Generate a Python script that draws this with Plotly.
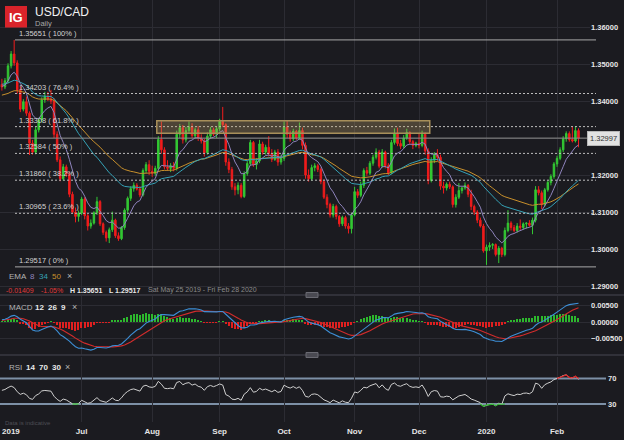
import plotly.graph_objects as go
import pandas as pd

# ---------------- data (USD/CAD daily) ----------------
open_ = [
    1.3445, 1.3438, 1.3455, 1.3495, 1.3527, 1.3503, 1.3430, 1.3378, 1.3398, 1.3367,
    1.3286, 1.3262, 1.3322, 1.3349, 1.3403, 1.3412, 1.3405, 1.3400, 1.3310, 1.3241,
    1.3190, 1.3222, 1.3202, 1.3148, 1.3100, 1.3088, 1.3097, 1.3135, 1.3090, 1.3062,
    1.3070, 1.3098, 1.3128, 1.3068, 1.3045, 1.3030, 1.3052, 1.3078, 1.3036, 1.3028,
    1.3058, 1.3105, 1.3137, 1.3163, 1.3172, 1.3162, 1.3146, 1.3212, 1.3228, 1.3210,
    1.3205, 1.3218, 1.3296, 1.3268, 1.3222, 1.3218, 1.3225, 1.3218, 1.3310, 1.3328,
    1.3295, 1.3320, 1.3330, 1.3306, 1.3322, 1.3300, 1.3292, 1.3260, 1.3305, 1.3322,
    1.3310, 1.3325, 1.3345, 1.3336, 1.3235, 1.3215, 1.3168, 1.3160, 1.3172, 1.3142,
    1.3204, 1.3231, 1.3288, 1.3228, 1.3238, 1.3284, 1.3262, 1.3275, 1.3258, 1.3242,
    1.3262, 1.3235, 1.3245, 1.3330, 1.3310, 1.3298, 1.3318, 1.3300, 1.3320, 1.3280,
    1.3200, 1.3190, 1.3220, 1.3225, 1.3215, 1.3182, 1.3140, 1.3120, 1.3092, 1.3115,
    1.3088, 1.3068, 1.3085, 1.3062, 1.3055, 1.3092, 1.3155, 1.3145, 1.3172, 1.3212,
    1.3205, 1.3232, 1.3248, 1.3262, 1.3224, 1.3262, 1.3225, 1.3206, 1.3288, 1.3312,
    1.3285, 1.3278, 1.3300, 1.3315, 1.3290, 1.3280, 1.3286, 1.3280, 1.3310, 1.3265,
    1.3185, 1.3240, 1.3255, 1.3248, 1.3170, 1.3165, 1.3175, 1.3168, 1.3120, 1.3140,
    1.3158, 1.3165, 1.3172, 1.3148, 1.3115, 1.3100, 1.3078, 1.3062, 1.2995, 1.3005,
    1.3010, 1.3012, 1.2985, 1.3002, 1.2985, 1.3050, 1.3070, 1.3058, 1.3050, 1.3062,
    1.3058, 1.3068, 1.3070, 1.3064, 1.3078, 1.3160, 1.3152, 1.3120, 1.3160, 1.3180,
    1.3196, 1.3230, 1.3245, 1.3268, 1.3298, 1.3312, 1.3296, 1.3292, 1.3320,
]
high = [
    1.3460, 1.3462, 1.3502, 1.3535, 1.3565, 1.3510, 1.3440, 1.3405, 1.3412, 1.3372,
    1.3295, 1.3330, 1.3355, 1.3410, 1.3425, 1.3425, 1.3430, 1.3408, 1.3318, 1.3250,
    1.3230, 1.3228, 1.3208, 1.3155, 1.3112, 1.3104, 1.3141, 1.3140, 1.3095, 1.3080,
    1.3102, 1.3141, 1.3132, 1.3072, 1.3050, 1.3058, 1.3101, 1.3082, 1.3045, 1.3062,
    1.3110, 1.3142, 1.3170, 1.3180, 1.3178, 1.3170, 1.3218, 1.3235, 1.3240, 1.3225,
    1.3225, 1.3305, 1.3345, 1.3275, 1.3240, 1.3232, 1.3235, 1.3320, 1.3338, 1.3335,
    1.3330, 1.3345, 1.3340, 1.3328, 1.3332, 1.3310, 1.3298, 1.3315, 1.3330, 1.3328,
    1.3330, 1.3352, 1.3384, 1.3340, 1.3245, 1.3222, 1.3178, 1.3180, 1.3178, 1.3210,
    1.3238, 1.3295, 1.3292, 1.3245, 1.3295, 1.3290, 1.3282, 1.3305, 1.3270, 1.3268,
    1.3270, 1.3255, 1.3345, 1.3348, 1.3320, 1.3325, 1.3322, 1.3342, 1.3328, 1.3288,
    1.3215, 1.3228, 1.3232, 1.3230, 1.3220, 1.3188, 1.3148, 1.3125, 1.3122, 1.3120,
    1.3092, 1.3090, 1.3090, 1.3070, 1.3098, 1.3168, 1.3162, 1.3182, 1.3218, 1.3222,
    1.3238, 1.3255, 1.3272, 1.3268, 1.3270, 1.3266, 1.3232, 1.3295, 1.3326, 1.3328,
    1.3295, 1.3308, 1.3325, 1.3318, 1.3295, 1.3290, 1.3312, 1.3320, 1.3315, 1.3272,
    1.3248, 1.3262, 1.3270, 1.3255, 1.3182, 1.3180, 1.3182, 1.3172, 1.3148, 1.3178,
    1.3168, 1.3180, 1.3176, 1.3160, 1.3120, 1.3105, 1.3085, 1.3068, 1.3012, 1.3018,
    1.3016, 1.3015, 1.3008, 1.3006, 1.3058, 1.3105, 1.3075, 1.3065, 1.3070, 1.3080,
    1.3072, 1.3072, 1.3078, 1.3085, 1.3170, 1.3170, 1.3158, 1.3165, 1.3185, 1.3202,
    1.3235, 1.3252, 1.3275, 1.3305, 1.3318, 1.3318, 1.3330, 1.3332, 1.3326,
]
low = [
    1.3428, 1.3432, 1.3448, 1.3488, 1.3495, 1.3420, 1.3370, 1.3372, 1.3360, 1.3254,
    1.3255, 1.3256, 1.3315, 1.3342, 1.3395, 1.3400, 1.3392, 1.3300, 1.3235, 1.3183,
    1.3185, 1.3195, 1.3140, 1.3095, 1.3072, 1.3074, 1.3092, 1.3080, 1.3050, 1.3055,
    1.3066, 1.3092, 1.3062, 1.3038, 1.3020, 1.3016, 1.3046, 1.3030, 1.3022, 1.3024,
    1.3052, 1.3098, 1.3130, 1.3155, 1.3158, 1.3140, 1.3142, 1.3205, 1.3200, 1.3195,
    1.3198, 1.3212, 1.3258, 1.3215, 1.3212, 1.3208, 1.3210, 1.3212, 1.3300, 1.3285,
    1.3288, 1.3312, 1.3300, 1.3298, 1.3292, 1.3285, 1.3250, 1.3255, 1.3298, 1.3305,
    1.3300, 1.3318, 1.3330, 1.3225, 1.3205, 1.3160, 1.3145, 1.3148, 1.3137, 1.3138,
    1.3198, 1.3225, 1.3222, 1.3215, 1.3232, 1.3255, 1.3255, 1.3250, 1.3235, 1.3238,
    1.3225, 1.3228, 1.3238, 1.3300, 1.3290, 1.3292, 1.3295, 1.3295, 1.3270, 1.3190,
    1.3182, 1.3185, 1.3210, 1.3208, 1.3175, 1.3135, 1.3110, 1.3085, 1.3085, 1.3080,
    1.3060, 1.3062, 1.3055, 1.3042, 1.3042, 1.3088, 1.3138, 1.3140, 1.3165, 1.3198,
    1.3200, 1.3225, 1.3242, 1.3218, 1.3220, 1.3218, 1.3200, 1.3202, 1.3282, 1.3278,
    1.3270, 1.3272, 1.3295, 1.3282, 1.3270, 1.3275, 1.3272, 1.3275, 1.3255, 1.3175,
    1.3180, 1.3232, 1.3238, 1.3160, 1.3150, 1.3158, 1.3162, 1.3112, 1.3112, 1.3135,
    1.3150, 1.3160, 1.3140, 1.3105, 1.3092, 1.3070, 1.3058, 1.2990, 1.2957, 1.2995,
    1.3000, 1.2980, 1.2962, 1.2978, 1.2980, 1.3045, 1.3050, 1.3045, 1.3044, 1.3050,
    1.3052, 1.3055, 1.3060, 1.3040, 1.3072, 1.3145, 1.3108, 1.3115, 1.3155, 1.3172,
    1.3190, 1.3222, 1.3240, 1.3262, 1.3290, 1.3290, 1.3288, 1.3288, 1.3275,
]
close_ = [
    1.3438, 1.3455, 1.3495, 1.3527, 1.3503, 1.3430, 1.3378, 1.3398, 1.3367, 1.3286,
    1.3262, 1.3322, 1.3349, 1.3403, 1.3412, 1.3405, 1.3400, 1.3310, 1.3241, 1.3190,
    1.3222, 1.3202, 1.3148, 1.3100, 1.3088, 1.3097, 1.3135, 1.3090, 1.3062, 1.3070,
    1.3098, 1.3128, 1.3068, 1.3045, 1.3030, 1.3052, 1.3078, 1.3036, 1.3028, 1.3058,
    1.3105, 1.3137, 1.3163, 1.3172, 1.3162, 1.3146, 1.3212, 1.3228, 1.3210, 1.3205,
    1.3218, 1.3296, 1.3268, 1.3222, 1.3218, 1.3225, 1.3218, 1.3310, 1.3328, 1.3295,
    1.3320, 1.3330, 1.3306, 1.3322, 1.3300, 1.3292, 1.3260, 1.3305, 1.3322, 1.3310,
    1.3325, 1.3345, 1.3336, 1.3235, 1.3215, 1.3168, 1.3160, 1.3172, 1.3142, 1.3204,
    1.3231, 1.3288, 1.3228, 1.3238, 1.3284, 1.3262, 1.3275, 1.3258, 1.3242, 1.3262,
    1.3235, 1.3245, 1.3330, 1.3310, 1.3298, 1.3318, 1.3300, 1.3320, 1.3280, 1.3200,
    1.3190, 1.3220, 1.3225, 1.3215, 1.3182, 1.3140, 1.3120, 1.3092, 1.3115, 1.3088,
    1.3068, 1.3085, 1.3062, 1.3055, 1.3092, 1.3155, 1.3145, 1.3172, 1.3212, 1.3205,
    1.3232, 1.3248, 1.3262, 1.3224, 1.3262, 1.3225, 1.3206, 1.3288, 1.3312, 1.3285,
    1.3278, 1.3300, 1.3315, 1.3290, 1.3280, 1.3286, 1.3280, 1.3310, 1.3265, 1.3185,
    1.3240, 1.3255, 1.3248, 1.3170, 1.3165, 1.3175, 1.3168, 1.3120, 1.3140, 1.3158,
    1.3165, 1.3172, 1.3148, 1.3115, 1.3100, 1.3078, 1.3062, 1.2995, 1.3005, 1.3010,
    1.3012, 1.2985, 1.3002, 1.2985, 1.3050, 1.3070, 1.3058, 1.3050, 1.3062, 1.3058,
    1.3068, 1.3070, 1.3064, 1.3078, 1.3160, 1.3152, 1.3120, 1.3160, 1.3180, 1.3196,
    1.3230, 1.3245, 1.3268, 1.3298, 1.3312, 1.3296, 1.3292, 1.3320, 1.32997,
]

month_tick_dates = ["2019-07-01", "2019-08-01", "2019-09-02", "2019-10-01",
                    "2019-11-01", "2019-12-02", "2020-01-01", "2020-02-03"]
month_tick_text = ["Jul", "Aug", "Sep", "Oct", "Nov", "Dec", "2020", "Feb"]
year_label_date, year_label_text = "2019-05-29", "2019"

price_ticks = [1.29, 1.30, 1.31, 1.32, 1.33, 1.34, 1.35, 1.36]
macd_ticks = [0.005, 0.0, -0.005]
rsi_levels = [70, 30]

fib_levels = [1.35651, 1.34203, 1.33308, 1.32584, 1.31860, 1.30965, 1.29517]
fib_pcts = ["100%", "76.4%", "61.8%", "50%", "38.2%", "23.6%", "0%"]
last_price = 1.32997
zone_low, zone_high = 1.33127, 1.33468
zone_start, zone_end = "2019-08-05", "2019-12-05"

ema_periods = [8, 34, 50]
ema_seeds = [1.3440, 1.3446, 1.3415]        # indicator values before first bar
macd_seeds = [1.3432, 1.3425, 0.0004]       # ema12, ema26, signal
rsi_seeds = [0.0026, 0.0024]                # avg gain, avg loss

# ---------------- indicators ----------------
dates = pd.bdate_range("2019-05-24", "2020-02-12")
n = len(close_)
assert len(dates) == n
xi = list(range(n))
pos = {d.strftime("%Y-%m-%d"): i for i, d in enumerate(dates)}


def ema(vals, period, seed):
    a = 2.0 / (period + 1)
    out, prev = [], seed
    for v in vals:
        prev = a * v + (1 - a) * prev
        out.append(prev)
    return out


ema_lines = [ema(close_, p, s) for p, s in zip(ema_periods, ema_seeds)]
e12 = ema(close_, 12, macd_seeds[0])
e26 = ema(close_, 26, macd_seeds[1])
macd = [a - b for a, b in zip(e12, e26)]
signal = ema(macd, 9, macd_seeds[2])
hist = [m - s for m, s in zip(macd, signal)]

ag, al = rsi_seeds
rsi, prev = [], open_[0]
for c in close_:
    ch = c - prev
    prev = c
    ag = (ag * 13 + max(ch, 0)) / 14
    al = (al * 13 + max(-ch, 0)) / 14
    rsi.append(100 - 100 / (1 + ag / al))


def zone(vals, test, clip):
    out = []
    for i, v in enumerate(vals):
        near = test(v) or (i > 0 and test(vals[i - 1])) or (i < len(vals) - 1 and test(vals[i + 1]))
        out.append(clip(v) if near else None)
    return out


rsi_hi = zone(rsi, lambda v: v >= 70, lambda v: max(v, 70))
rsi_lo = zone(rsi, lambda v: v <= 30, lambda v: min(v, 30))

# ---------------- styling ----------------
BG = "#1b1b20"
GRID = "#2c2c33"
UP = "#33c833"
DN = "#f01c1c"
C_E8, C_E34, C_E50 = "#8f84bd", "#35a2b6", "#c8902c"
FONT = "Liberation Sans, Arial, sans-serif"
W, H = 590.0, 422.0


def xp(px):
    return px / W


def yp(py):
    return (H - py) / H


fig = go.Figure()
fig.add_trace(go.Candlestick(
    x=xi, open=open_, high=high, low=low, close=close_,
    increasing=dict(line=dict(color=UP, width=1), fillcolor=UP),
    decreasing=dict(line=dict(color=DN, width=1), fillcolor=DN),
    whiskerwidth=0, xaxis="x", yaxis="y", showlegend=False, hoverinfo="skip"))
for vals, col in zip(ema_lines[::-1], [C_E50, C_E34, C_E8]):
    fig.add_trace(go.Scatter(x=xi, y=vals, mode="lines", line=dict(color=col, width=1),
                             xaxis="x", yaxis="y", showlegend=False, hoverinfo="skip"))

fig.add_trace(go.Bar(x=xi, y=hist, width=0.45,
                     marker=dict(color=["#2db82d" if h >= 0 else "#e01f1f" for h in hist], line=dict(width=0)),
                     xaxis="x2", yaxis="y2", showlegend=False, hoverinfo="skip"))
fig.add_trace(go.Scatter(x=xi, y=signal, mode="lines", line=dict(color="#d22c2c", width=1.1),
                         xaxis="x2", yaxis="y2", showlegend=False, hoverinfo="skip"))
fig.add_trace(go.Scatter(x=xi, y=macd, mode="lines", line=dict(color="#3d8fd6", width=1.1),
                         xaxis="x2", yaxis="y2", showlegend=False, hoverinfo="skip"))

fig.add_trace(go.Scatter(x=xi, y=rsi, mode="lines", line=dict(color="#cfcfcf", width=1),
                         xaxis="x3", yaxis="y3", showlegend=False, hoverinfo="skip"))
fig.add_trace(go.Scatter(x=xi, y=rsi_hi, mode="lines", line=dict(color="#e02020", width=1.2),
                         xaxis="x3", yaxis="y3", showlegend=False, hoverinfo="skip", connectgaps=False))
fig.add_trace(go.Scatter(x=xi, y=rsi_lo, mode="lines", line=dict(color="#2cb82c", width=1.2),
                         xaxis="x3", yaxis="y3", showlegend=False, hoverinfo="skip", connectgaps=False))

xmin = -0.62
xmax = xmin + W / 3.067
tickpos = [pos[d] for d in month_tick_dates]
xcommon = dict(range=[xmin, xmax], tickvals=tickpos, ticktext=month_tick_text,
               showgrid=True, gridcolor=GRID, gridwidth=1, zeroline=False, showline=False,
               ticks="", ticklen=0, fixedrange=True)
tickfont = dict(family=FONT, size=7.5, color="#e6e6e6", weight="bold")
xtickfont = dict(family=FONT, size=8, color="#e6e6e6", weight="bold")

shapes = []
# Fibonacci levels
for lvl, pct in zip(fib_levels, fib_pcts):
    solid = pct in ("100%", "0%")
    shapes.append(dict(type="line", xref="paper", yref="y", x0=xp(15), x1=xp(596), y0=lvl, y1=lvl,
                       line=dict(color="#a8a8a8" if solid else "#bdbdbd", width=1,
                                 dash="solid" if solid else "2px,2px")))
# last price line
shapes.append(dict(type="line", xref="paper", yref="y", x0=0, x1=xp(596), y0=last_price, y1=last_price,
                   line=dict(color="#8e8e8e", width=1)))
# resistance zone
shapes.append(dict(type="rect", xref="x", yref="y", x0=pos[zone_start] - 0.5, x1=pos[zone_end] + 0.5,
                   y0=zone_low, y1=zone_high, fillcolor="rgba(196,165,105,0.30)",
                   line=dict(color="#a88f5a", width=1.5)))
# RSI 70 / 30
for lv in rsi_levels:
    shapes.append(dict(type="line", xref="paper", yref="y3", x0=0, x1=xp(606), y0=lv, y1=lv,
                       line=dict(color="#7d90a6", width=2), layer="below"))
# panel dividers + grips
for py in (295, 355):
    shapes.append(dict(type="line", xref="paper", yref="paper", x0=0, x1=624 / W, y0=yp(py), y1=yp(py),
                       line=dict(color="#3a3a42", width=1.5)))
    shapes.append(dict(type="rect", xref="paper", yref="paper", x0=xp(306), x1=xp(318),
                       y0=yp(py + 2.5), y1=yp(py - 2.5), fillcolor="#4a4a52",
                       line=dict(color="#6a6a72", width=1)))
# IG logo
shapes.append(dict(type="rect", xref="paper", yref="paper", x0=xp(5), x1=xp(27), y0=yp(27.5), y1=yp(6),
                   fillcolor="#d9232a", line=dict(width=0)))

ann = []


def txt(x, y, s, color, size=8, bold=False, xanchor="left", yanchor="middle", xref="paper", yref="paper", **kw):
    ann.append(dict(x=x, y=y, xref=xref, yref=yref, text=s, showarrow=False, xanchor=xanchor,
                    yanchor=yanchor, font=dict(family=FONT, size=size, color=color,
                                               weight="bold" if bold else "normal"), **kw))


# header
txt(xp(16), yp(17), "IG", "#ffffff", size=13, bold=True, xanchor="center")
txt(xp(33), yp(12), "USD/CAD", "#f2f2f2", size=12)
txt(xp(33), yp(23.5), "Daily", "#a8a8a8", size=7.5)
# fib labels
for lvl, pct in zip(fib_levels, fib_pcts):
    txt(xp(17), lvl, f"{lvl:.5f} ( {pct} )", "#d2d2d2", size=7.5, yref="y", yanchor="bottom")
# price tag
txt(xp(587), last_price, f"{last_price:.5f}", "#333333", size=7.5, yref="y",
    bgcolor="#e2e2e2", bordercolor="#b8b8b8", borderwidth=1, borderpad=2)
# EMA legend
txt(xp(7), yp(276), "EMA", "#b4b4b4", size=8)
txt(xp(28), yp(276), str(ema_periods[0]), C_E8, size=8)
txt(xp(37), yp(276), str(ema_periods[1]), C_E34, size=8)
txt(xp(50), yp(276), str(ema_periods[2]), C_E50, size=8)
txt(xp(65), yp(276), "×", "#b4b4b4", size=9)
# stats row
txt(xp(4), yp(290), "-0.01409", "#e03a3a", size=7)
txt(xp(39), yp(290), "-1.05%", "#e03a3a", size=7)
txt(xp(68), yp(290), f"H {fib_levels[0]:.5f}", "#e8e8e8", size=7, bold=True)
txt(xp(107), yp(290), f"L {fib_levels[-1]:.5f}", "#e8e8e8", size=7, bold=True)
txt(xp(146), yp(290), "Sat May 25 2019 - Fri Feb 28 2020", "#8a8a8a", size=7)
# MACD legend
txt(xp(7), yp(307), "MACD", "#b4b4b4", size=8)
txt(xp(33), yp(307), "12", "#e8e8e8", size=8, bold=True)
txt(xp(46), yp(307), "26", "#e8e8e8", size=8, bold=True)
txt(xp(59), yp(307), "9", "#e8e8e8", size=8, bold=True)
txt(xp(70), yp(307), "×", "#b4b4b4", size=9)
# RSI legend
txt(xp(7), yp(367), "RSI", "#b4b4b4", size=8)
txt(xp(24), yp(367), "14", "#e8e8e8", size=8, bold=True)
txt(xp(37), yp(367), "70", "#e8e8e8", size=8, bold=True)
txt(xp(50), yp(367), "30", "#e8e8e8", size=8, bold=True)
txt(xp(63), yp(367), "×", "#b4b4b4", size=9)
# misc
txt(xp(3), yp(423), "Data is indicative", "#4e4e55", size=6)
txt(pos[year_label_date], yp(432), year_label_text, "#e6e6e6", size=8, bold=True,
    xanchor="center", xref="x3")

fig.update_layout(
    width=624, height=440, margin=dict(l=0, r=34, t=0, b=18),
    paper_bgcolor=BG, plot_bgcolor=BG, showlegend=False, bargap=0,
    xaxis=dict(**xcommon, anchor="y", showticklabels=False, rangeslider=dict(visible=False)),
    xaxis2=dict(**xcommon, anchor="y2", matches="x", showticklabels=False),
    xaxis3=dict(**xcommon, anchor="y3", matches="x", showticklabels=True, tickfont=xtickfont,
                ticklabelstandoff=3),
    yaxis=dict(domain=[yp(293), 1], range=[1.28811, 1.36730], side="right", tickvals=price_ticks,
               tickformat=".5f", showgrid=True, gridcolor=GRID, zeroline=False, ticks="", ticklen=0,
               tickfont=tickfont, fixedrange=True),
    yaxis2=dict(domain=[yp(355), yp(296)], range=[-0.0100, 0.00788], side="right", tickvals=macd_ticks,
                tickformat=".5f", showgrid=True, gridcolor=GRID, zeroline=False, ticks="", ticklen=0,
                tickfont=tickfont, fixedrange=True),
    yaxis3=dict(domain=[0, yp(357)], range=[1.8, 103.7], side="right", tickvals=rsi_levels,
                showgrid=False, zeroline=False, ticks="", ticklen=0, tickfont=tickfont, fixedrange=True,
                ticklabelstandoff=17),
    shapes=shapes, annotations=ann,
)

fig.write_html("out.html", config={"displayModeBar": False},
               post_script="document.body.style.margin='0px';document.body.style.overflow='hidden';")
